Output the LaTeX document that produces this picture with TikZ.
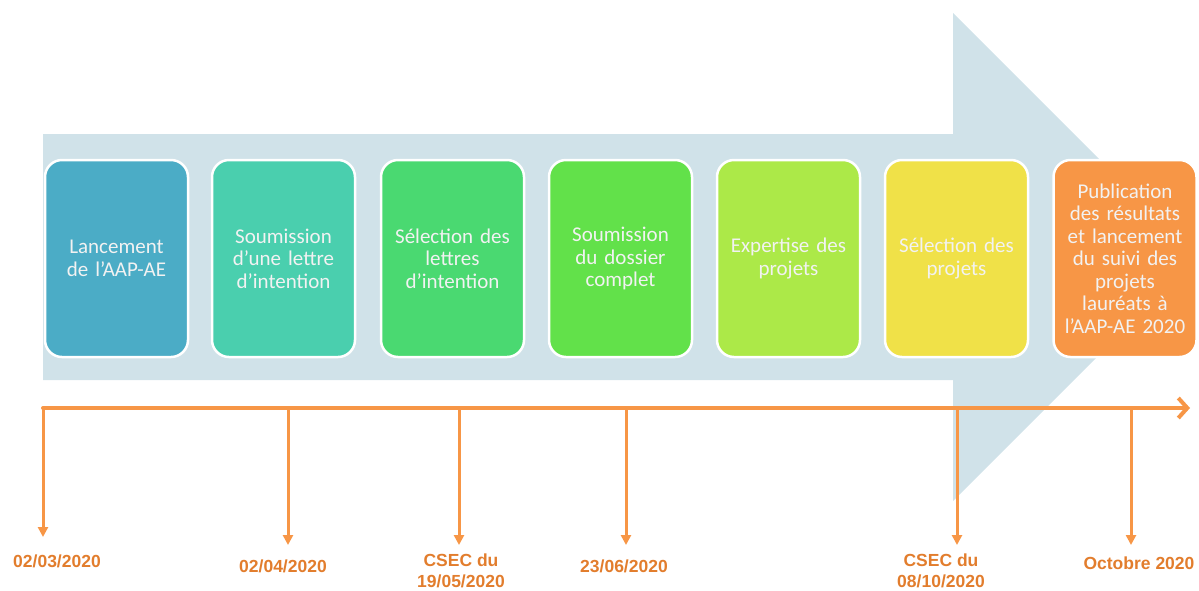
\documentclass[tikz,border=0pt]{standalone}
\usepackage{fontspec}
\setmainfont{Carlito}
\newfontfamily\arialfont{Liberation Sans}
\usetikzlibrary{arrows.meta}
\definecolor{arrowc}{RGB}{208,226,233}
\definecolor{cA}{RGB}{75,172,198}
\definecolor{cB}{RGB}{74,207,174}
\definecolor{cC}{RGB}{74,217,113}
\definecolor{cD}{RGB}{98,225,74}
\definecolor{cE}{RGB}{172,233,72}
\definecolor{cF}{RGB}{240,225,72}
\definecolor{cG}{RGB}{247,150,70}
\definecolor{boxtext}{RGB}{242,242,242}
\definecolor{lineor}{RGB}{247,150,70}
\definecolor{labelor}{RGB}{226,125,45}
\tikzset{
  stagebox/.style={rounded corners=17pt, draw=white, line width=2.5pt,
    minimum width=143pt, minimum height=197pt, text width=138pt, align=center,
    text=boxtext, font=\fontsize{21}{22.5}\selectfont, inner sep=0pt},
  timeline/.style={draw=lineor, line width=4pt, line cap=round, line join=round},
  dropline/.style={draw=lineor, line width=3pt, -{Triangle[length=10pt,width=10pt]}},
  datelabel/.style={text=labelor, align=center, inner sep=0pt,
    font=\arialfont\bfseries\fontsize{17.5}{21}\selectfont},
}
\begin{document}
\begin{tikzpicture}[x=1pt,y=-1pt]
\useasboundingbox (0,0) rectangle (1199,590);
% background arrow
\fill[arrowc] (43,134) -- (953,134) -- (953,13) -- (1197,257) -- (953,501) -- (953,380) -- (43,380) -- cycle;
% stage boxes
\node[stagebox, fill=cA] (b1) at (116.5,258.5) {Lancement\\de l’AAP-AE};
\node[stagebox, fill=cB] (b2) at (283.5,258.5) {Soumission\\d’une lettre\\d’intention};
\node[stagebox, fill=cC] (b3) at (452.5,258.5) {Sélection des\\lettres\\d’intention};
\node[stagebox, fill=cD] (b4) at (620.5,258.5) {Soumission\\du dossier\\complet};
\node[stagebox, fill=cE] (b5) at (788.5,258.5) {Expertise des\\projets};
\node[stagebox, fill=cF] (b6) at (956.5,258.5) {Sélection des\\projets};
\node[stagebox, fill=cG] (b7) at (1125,258.5) {Publication\\des résultats\\et lancement\\du suivi des\\projets\\lauréats à\\l’AAP-AE 2020};
% timeline
\coordinate (t0) at (43,408);
\coordinate (tend) at (1190,408);
\coordinate (t2) at (288,408);
\coordinate (t3) at (459,408);
\coordinate (t4) at (626,408);
\coordinate (t5) at (957,408);
\coordinate (t6) at (1131,408);
\coordinate (e1) at (43,537);
\coordinate (e2) at (288,545);
\coordinate (e3) at (459,545);
\coordinate (e4) at (626,545);
\coordinate (e5) at (957,545);
\coordinate (e6) at (1131,545);
\draw[dropline] (t0) -- (e1);
\draw[dropline] (t2) -- (e2);
\draw[dropline] (t3) -- (e3);
\draw[dropline] (t4) -- (e4);
\draw[dropline] (t5) -- (e5);
\draw[dropline] (t6) -- (e6);
\draw[timeline, -{Straight Barb[length=9pt,width=20pt,line width=4pt]}] (t0) -- (tend);
% labels
\node[datelabel] (d1) at (57,561) {02/03/2020};
\node[datelabel] (d2) at (283,566) {02/04/2020};
\node[datelabel] (d3) at (461,571) {CSEC du\\19/05/2020};
\node[datelabel] (d4) at (624,566) {23/06/2020};
\node[datelabel] (d5) at (941,571) {CSEC du\\08/10/2020};
\node[datelabel] (d6) at (1139,563) {Octobre 2020};
\end{tikzpicture}
\end{document}
